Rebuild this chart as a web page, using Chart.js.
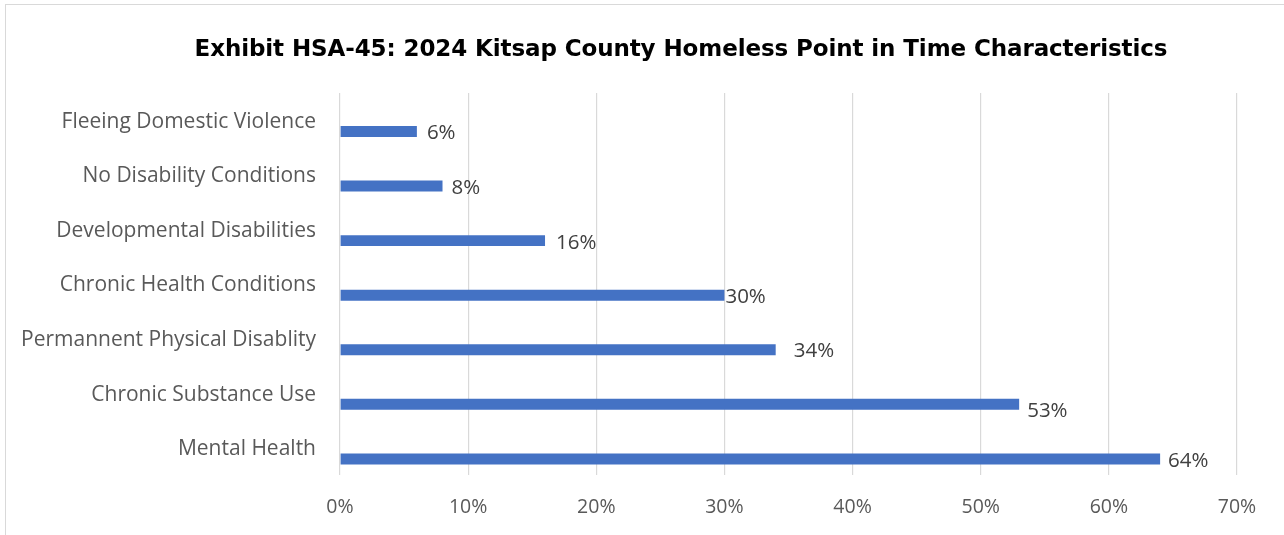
<!DOCTYPE html>
<html>
<head>
<meta charset="utf-8">
<script src="https://cdn.jsdelivr.net/npm/chart.js@4.4.1/dist/chart.umd.min.js"></script>
<style>
  html, body { margin: 0; padding: 0; background: #fff; }
  #wrap { position: relative; width: 1284px; height: 535px; overflow: hidden; }
  #frame { position: absolute; left: 5px; top: 4px; width: 1300px; height: 560px; border: 1px solid #d9d9d9; }
  #title {
    position: absolute; left: 78px; top: 34px; width: 1206px;
    text-align: center; font: bold 23px 'DejaVu Sans'; line-height: 28px; color: #000;
    letter-spacing: -0.1px; white-space: nowrap;
  }
  canvas { position: absolute; left: 0; top: 0; }
</style>
</head>
<body>
<div id="wrap">
  <div id="frame"></div>
  <canvas id="chart_pit" width="1284" height="535"></canvas>
  <div id="title">Exhibit HSA-45: 2024 Kitsap County Homeless Point in Time Characteristics</div>
</div>
<script>
const categories = [
    'Fleeing Domestic Violence',
    'No Disability Conditions',
    'Developmental Disabilities',
    'Chronic Health Conditions',
    'Permannent Physical Disablity',
    'Chronic Substance Use',
    'Mental Health'
];
const percentValues = [6, 8, 16, 30, 34, 53, 64];
const xTicks = [0, 10, 20, 30, 40, 50, 60, 70];

// small nudges so the value labels sit where Excel put them
const labelNudgeX = [10, 9, 11, 1, 18, 8, 8];
const labelNudgeY = [2, 2, 3, 1.5, 1.5, 7, 2];

const valueLabels = {
    id: 'valueLabels',
    afterDatasetsDraw(chart) {
        const meta = chart.getDatasetMeta(1);
        const ctx = chart.ctx;
        ctx.save();
        ctx.font = '20.5px "Open Sans"';
        ctx.fillStyle = '#404040';
        ctx.textAlign = 'left';
        ctx.textBaseline = 'middle';
        meta.data.forEach(function (bar, i) {
            ctx.fillText(percentValues[i] + '%', bar.x + labelNudgeX[i], bar.y + labelNudgeY[i]);
        });
        ctx.restore();
    }
};

new Chart(document.getElementById('chart_pit'), {
    type: 'bar',
    data: {
        labels: categories,
        datasets: [
            { label: '', data: categories.map(() => null) },
            { label: 'Share', data: percentValues, backgroundColor: '#4472C4', borderWidth: 0 }
        ]
    },
    options: {
        indexAxis: 'y',
        responsive: false,
        animation: false,
        categoryPercentage: 0.82,
        barPercentage: 0.49,
        layout: {
            padding: { left: 5, right: 47, top: 93, bottom: 17 }
        },
        scales: {
            x: {
                min: 0,
                max: 70,
                afterBuildTicks: function (scale) {
                    scale.ticks = xTicks.map(v => ({ value: v }));
                },
                afterFit: function (scale) {
                    scale.height = 43;
                },
                grid: { color: '#d9d9d9', lineWidth: 1.2, drawTicks: false },
                border: { display: false },
                ticks: {
                    padding: 21,
                    color: '#595959',
                    font: { family: 'Open Sans', size: 19.5 },
                    callback: function (value) {
                        return value + '%';
                    }
                }
            },
            y: {
                grid: { display: false, drawTicks: false },
                border: { display: false },
                afterFit: function (scale) {
                    scale.width = 335;
                },
                ticks: {
                    padding: 24,
                    labelOffset: 1.5,
                    color: '#595959',
                    font: { family: 'Open Sans', size: 21 }
                }
            }
        },
        plugins: {
            legend: { display: false },
            tooltip: { enabled: false },
            title: { display: false }
        }
    },
    plugins: [valueLabels]
});
</script>
</body>
</html>
